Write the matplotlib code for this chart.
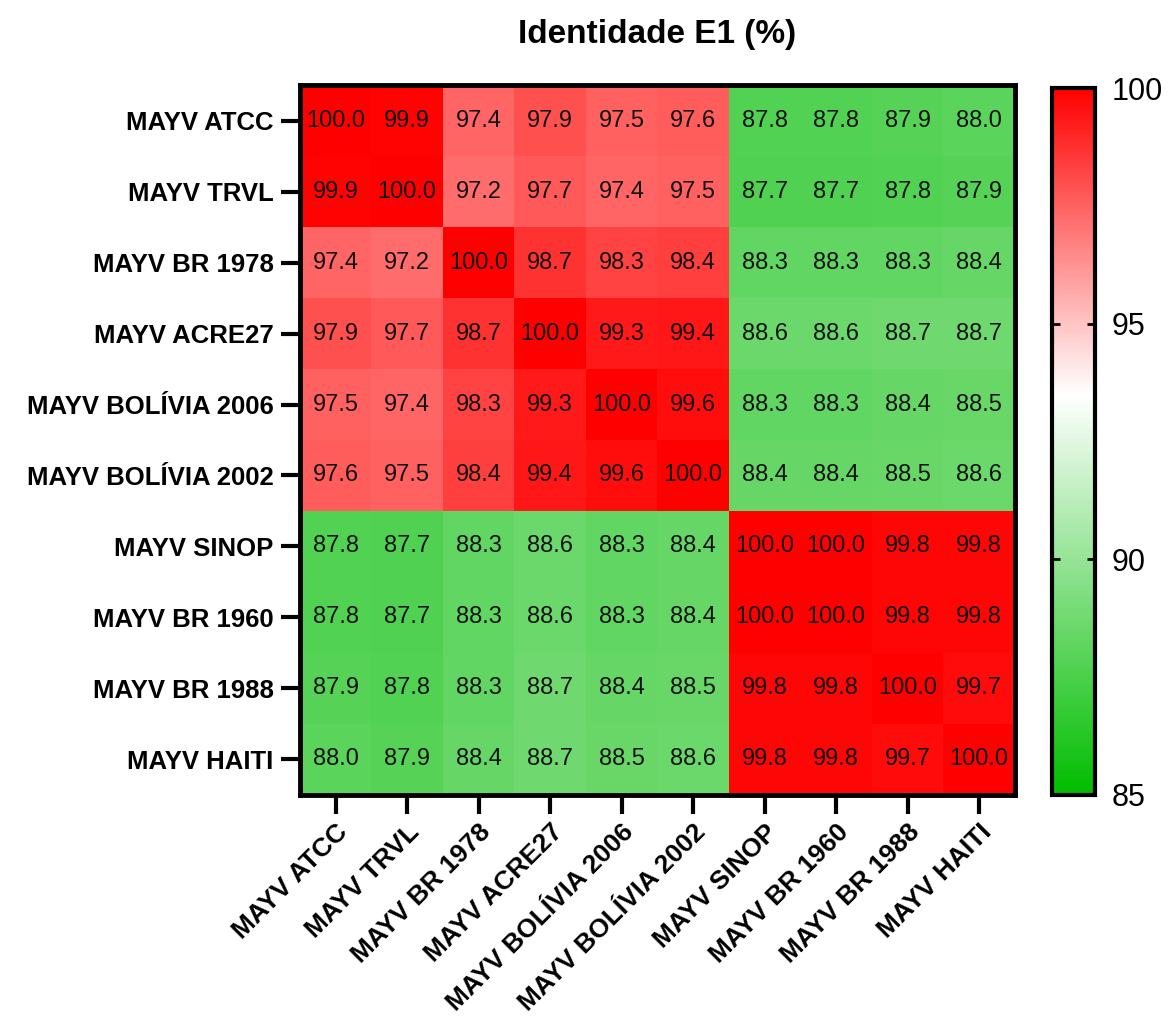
import numpy as np
import matplotlib
matplotlib.use("Agg")
import matplotlib.pyplot as plt
from matplotlib.colors import LinearSegmentedColormap, Normalize

labels = ["MAYV ATCC", "MAYV TRVL", "MAYV BR 1978", "MAYV ACRE27",
          "MAYV BOLÍVIA 2006", "MAYV BOLÍVIA 2002", "MAYV SINOP",
          "MAYV BR 1960", "MAYV BR 1988", "MAYV HAITI"]

values = np.array([
    [100.0, 99.9, 97.4, 97.9, 97.5, 97.6, 87.8, 87.8, 87.9, 88.0],
    [99.9, 100.0, 97.2, 97.7, 97.4, 97.5, 87.7, 87.7, 87.8, 87.9],
    [97.4, 97.2, 100.0, 98.7, 98.3, 98.4, 88.3, 88.3, 88.3, 88.4],
    [97.9, 97.7, 98.7, 100.0, 99.3, 99.4, 88.6, 88.6, 88.7, 88.7],
    [97.5, 97.4, 98.3, 99.3, 100.0, 99.6, 88.3, 88.3, 88.4, 88.5],
    [97.6, 97.5, 98.4, 99.4, 99.6, 100.0, 88.4, 88.4, 88.5, 88.6],
    [87.8, 87.7, 88.3, 88.6, 88.3, 88.4, 100.0, 100.0, 99.8, 99.8],
    [87.8, 87.7, 88.3, 88.6, 88.3, 88.4, 100.0, 100.0, 99.8, 99.8],
    [87.9, 87.8, 88.3, 88.7, 88.4, 88.5, 99.8, 99.8, 100.0, 99.7],
    [88.0, 87.9, 88.4, 88.7, 88.5, 88.6, 99.8, 99.8, 99.7, 100.0],
])

title = "Identidade E1 (%)"
vmin, vmid, vmax = 85, 93.5, 100
cbar_ticks = [85, 90, 95, 100]

plt.rcParams['font.family'] = ['Liberation Sans', 'DejaVu Sans']

pos_mid = (vmid - vmin) / (vmax - vmin)
cmap = LinearSegmentedColormap.from_list(
    "gwr", [(0.0, (0.0, 0.74, 0.0)), (pos_mid, (1.0, 1.0, 1.0)), (1.0, (1.0, 0.0, 0.0))])
norm = Normalize(vmin=vmin, vmax=vmax)

fig = plt.figure(figsize=(11.7, 10.21), dpi=100)
ax = fig.add_axes([0.2564, 0.2214, 0.6111, 0.6953])
n = len(labels)
ax.imshow(values, cmap=cmap, norm=norm, aspect='auto', interpolation='nearest')
for i in range(n):
    for j in range(n):
        ax.text(j, i, f"{values[i, j]:.1f}", ha='center', va='center',
                fontsize=17, color='#111111')

ax.set_xticks(range(n))
ax.set_yticks(range(n))
ax.set_xticklabels(labels, rotation=45, ha='right', rotation_mode='anchor',
                   fontsize=19, fontweight='bold')
ax.set_yticklabels(labels, fontsize=18.5, fontweight='bold')
ax.tick_params(axis='both', length=14, width=3, direction='out', pad=5)
ax.tick_params(axis='x', pad=4)
for sp in ax.spines.values():
    sp.set_linewidth(3.5)
ax.set_title(title, fontsize=24, fontweight='bold', pad=30)

cax = fig.add_axes([0.899, 0.2214, 0.037, 0.692])
cb = fig.colorbar(plt.cm.ScalarMappable(norm=norm, cmap=cmap), cax=cax, ticks=cbar_ticks)
cb.outline.set_linewidth(3)
cax.tick_params(length=6, width=2, direction='in', labelsize=22, pad=12,
                left=True, right=True, labelleft=False, labelright=True)
cax.yaxis.set_tick_params(which='minor', length=0)

fig.savefig("out.png", dpi=100)
